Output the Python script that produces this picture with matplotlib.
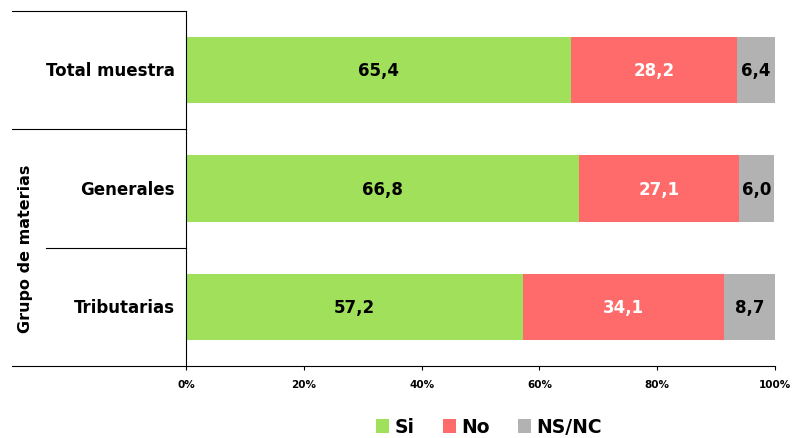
import matplotlib.pyplot as plt
import numpy as np

categories = ["Total muestra", "Generales", "Tributarias"]
si = [65.4, 66.8, 57.2]
no = [28.2, 27.1, 34.1]
nsnc = [6.4, 6.0, 8.7]
series_names = ["Si", "No", "NS/NC"]
colors = ["#a0e05a", "#ff6b6b", "#b2b2b2"]
text_colors = ["black", "white", "black"]
xticks = [0, 20, 40, 60, 80, 100]

plt.rcParams['font.family'] = ['DejaVu Sans']

fig = plt.figure(figsize=(7.92, 4.39), dpi=100)
ax = fig.add_axes([186 / 792, 1 - 367 / 439, (775 - 186) / 792, (367 - 12) / 439])

y = np.arange(len(categories))[::-1]
left = np.zeros(len(categories))
for vals, name, c, tc in zip([si, no, nsnc], series_names, colors, text_colors):
    vals = np.array(vals)
    ax.barh(y, vals, left=left, height=0.56, color=c, label=name)
    for yi, l, v in zip(y, left, vals):
        ax.text(l + v / 2, yi, f"{v:.1f}".replace(".", ","), ha="center", va="center",
                fontsize=12, fontweight="bold", color=tc)
    left += vals

ax.set_xlim(0, 100)
ax.set_ylim(-0.5, 2.5)
ax.set_xticks(xticks)
ax.set_xticklabels([f"{t}%" for t in xticks], fontsize=7.5, fontweight="bold")
ax.tick_params(axis="x", length=3, width=0.8, pad=6)
ax.set_yticks([])

for s in ["top", "right"]:
    ax.spines[s].set_visible(False)
ax.spines["left"].set_linewidth(0.8)
ax.spines["bottom"].set_linewidth(0.8)

# group lines on the left
for yy, x0 in [(2.5, -0.2954), (1.5, -0.2954), (0.5, -0.2377), (-0.5, -0.2954)]:
    ax.plot([x0, 0], [yy, yy], transform=ax.get_yaxis_transform(), color="black",
            lw=0.8, clip_on=False)

for yi, cat in zip(y, categories):
    ax.text(-0.019, yi, cat, transform=ax.get_yaxis_transform(), ha="right", va="center",
            fontsize=12, fontweight="bold")

ax.text(-0.273, 0.5, "Grupo de materias", transform=ax.get_yaxis_transform(),
        rotation=90, ha="center", va="center", fontsize=11.5, fontweight="bold")

ax.legend(loc="center", bbox_to_anchor=(489 / 792, 1 - 428 / 439), bbox_transform=fig.transFigure,
          ncol=3, frameon=False, prop={"weight": "bold", "size": 13.5},
          handlelength=0.7, handleheight=0.7, handletextpad=0.3, columnspacing=1.5)

fig.savefig("out.png", dpi=100)
